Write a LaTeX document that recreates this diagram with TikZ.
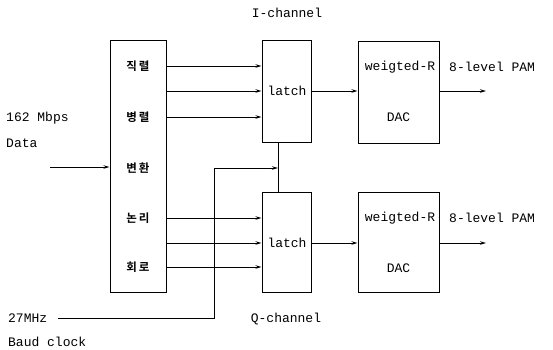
\documentclass[tikz,border=0pt]{standalone}
\usepackage{fontspec}
\setmonofont{Liberation Mono}
\newfontfamily\krfont{Noto Sans CJK KR}[BoldFont={Noto Sans CJK KR Bold}]
\usetikzlibrary{arrows.meta}
\begin{document}
\begin{tikzpicture}[x=1pt,y=-1pt,
  blk/.style={draw,line width=1pt,rectangle,inner sep=0pt},
  lbl/.style={font=\ttfamily\fontsize{13}{15}\selectfont,inner sep=0pt},
  kr/.style={font=\krfont\bfseries\fontsize{11.5}{13}\selectfont,inner sep=0pt},
  wire/.style={line width=1pt},
  arr/.style={wire,-{Stealth[length=6pt,width=3.5pt]}}]
\useasboundingbox (0,0) rectangle (553,349);
% blocks
\node[blk,minimum width=56pt,minimum height=252pt] (conv) at (138,166) {};
\node[blk,minimum width=49pt,minimum height=102pt] (latchI) at (286.5,91) {};
\node[blk,minimum width=49pt,minimum height=100pt] (latchQ) at (286.5,242) {};
\node[blk,minimum width=81pt,minimum height=102pt] (dacI) at (398.5,92) {};
\node[blk,minimum width=81pt,minimum height=100pt] (dacQ) at (398.5,242) {};
% texts inside
\node[kr] (k1) at (138,66) {직\,렬};
\node[kr] (k2) at (138,117) {병\,렬};
\node[kr] (k3) at (138,168) {변\,환};
\node[kr] (k4) at (138,218) {논\,리};
\node[kr] (k5) at (138,267) {회\,로};
\node[lbl] (lI) at (287,91) {latch};
\node[lbl] (lQ) at (287,243) {latch};
\node[lbl] (wI) at (400,67) {weigted-R};
\node[lbl] (dI) at (398.5,117) {DAC};
\node[lbl] (wQ) at (400,218) {weigted-R};
\node[lbl] (dQ) at (398.5,268) {DAC};
% outside labels
\node[lbl] (ich) at (287,13) {I-channel};
\node[lbl] (qch) at (286,319) {Q-channel};
\node[lbl,anchor=west] (pamI) at (449,67) {8-level PAM};
\node[lbl,anchor=west] (pamQ) at (449,218) {8-level PAM};
\node[lbl,anchor=west] (rate) at (6,118) {162 Mbps};
\node[lbl,anchor=west] (data) at (6,143) {Data};
\node[lbl,anchor=west] (mhz) at (8,318) {27MHz};
\node[lbl,anchor=west] (baud) at (8,342) {Baud clock};
% coordinates
\coordinate (din) at (50,167);
\coordinate (outI) at (486,91);
\coordinate (outQ) at (486,243);
\coordinate (clk) at (58,318);
\coordinate (c1) at (214,318);
\coordinate (c2) at (214,168);
\coordinate (cj) at (278,168);
% connectors
\draw[arr] (din) -- (conv.west |- din);
\foreach \y in {66,91,117}{\draw[arr] (conv.east |- 0,\y) -- (latchI.west |- 0,\y);}
\foreach \y in {218,243,267}{\draw[arr] (conv.east |- 0,\y) -- (latchQ.west |- 0,\y);}
\draw[arr] (latchI.east |- 0,91) -- (dacI.west |- 0,91);
\draw[arr] (latchQ.east |- 0,243) -- (dacQ.west |- 0,243);
\draw[arr] (dacI.east |- outI) -- (outI);
\draw[arr] (dacQ.east |- outQ) -- (outQ);
\draw[wire] (latchI.south -| cj) -- (latchQ.north -| cj);
\draw[arr] (clk) -- (c1) -- (c2) -- (cj);
\end{tikzpicture}
\end{document}
